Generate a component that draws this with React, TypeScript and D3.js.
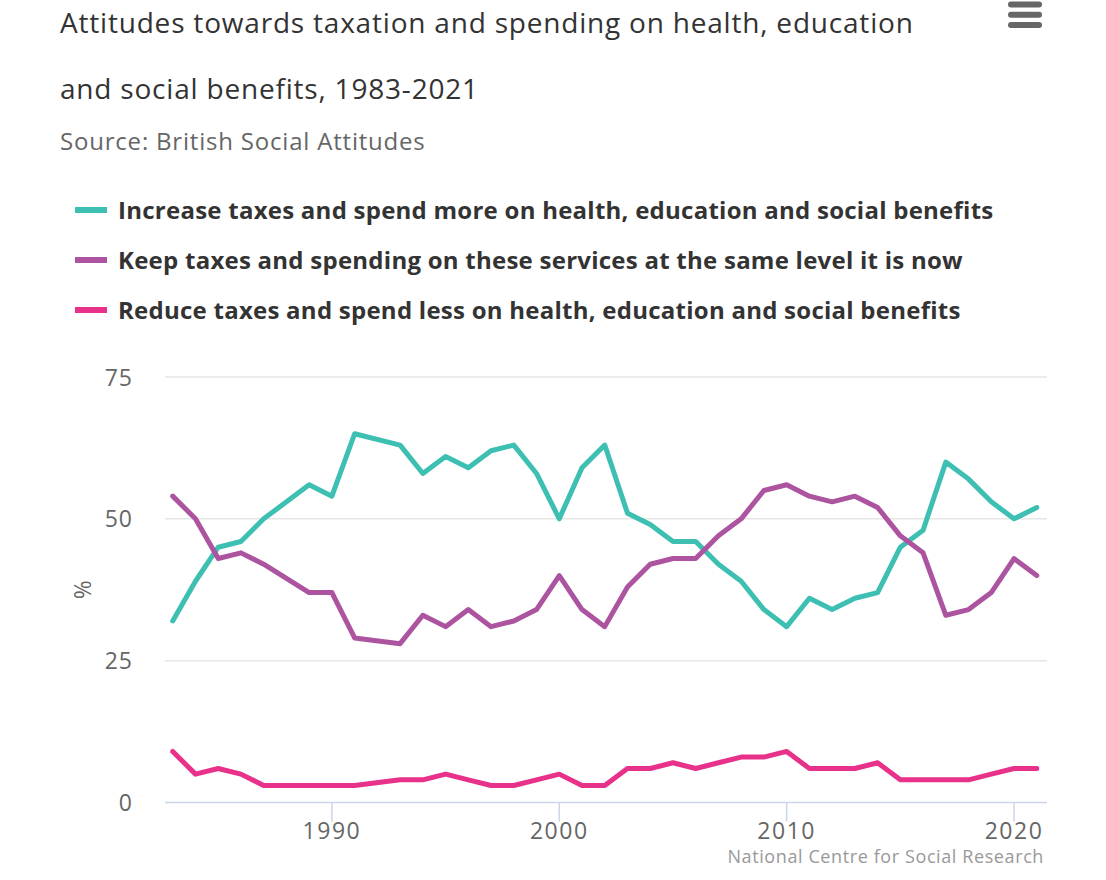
import React from "react";
import * as d3 from "d3";

const years = [1983, 1984, 1985, 1986, 1987, 1989, 1990, 1991, 1993, 1994, 1995, 1996, 1997, 1998, 1999, 2000, 2001, 2002, 2003, 2004, 2005, 2006, 2007, 2008, 2009, 2010, 2011, 2012, 2013, 2014, 2015, 2016, 2017, 2018, 2019, 2020, 2021];
const increase = [32, 39, 45, 46, 50, 56, 54, 65, 63, 58, 61, 59, 62, 63, 58, 50, 59, 63, 51, 49, 46, 46, 42, 39, 34, 31, 36, 34, 36, 37, 45, 48, 60, 57, 53, 50, 52];
const keep = [54, 50, 43, 44, 42, 37, 37, 29, 28, 33, 31, 34, 31, 32, 34, 40, 34, 31, 38, 42, 43, 43, 47, 50, 55, 56, 54, 53, 54, 52, 47, 44, 33, 34, 37, 43, 40];
const reduce = [9, 5, 6, 5, 3, 3, 3, 3, 4, 4, 5, 4, 3, 3, 4, 5, 3, 3, 6, 6, 7, 6, 7, 8, 8, 9, 6, 6, 6, 7, 4, 4, 4, 4, 5, 6, 6];

const seriesNames = [
  "Increase taxes and spend more on health, education and social benefits",
  "Keep taxes and spending on these services at the same level it is now",
  "Reduce taxes and spend less on health, education and social benefits",
];
const seriesColors = ["#3dbfb2", "#ac549f", "#e8318a"];
const yTicks = [0, 25, 50, 75];
const xTicks = [1990, 2000, 2010, 2020];

const titleLines = ["Attitudes towards taxation and spending on health, education", "and social benefits, 1983-2021"];
const subtitle = "Source: British Social Attitudes";
const credits = "National Centre for Social Research";

export default function App() {
  const W = 1106, H = 880;
  const plotLeft = 165, plotRight = 1047, plotTop = 377, plotBottom = 802.5;
  const x = d3.scaleLinear().domain([1982.66, 2021.45]).range([plotLeft, plotRight]);
  const y = d3.scaleLinear().domain([0, 75]).range([plotBottom, plotTop]);
  const allSeries = [increase, keep, reduce];
  const line = d3.line<[number, number]>().x((d) => x(d[0])).y((d) => y(d[1]));
  const font = "'Open Sans', Lato, sans-serif";

  return (
    <div style={{ position: "absolute", left: 0, top: 0 }}>
      <svg width={W} height={H} style={{ display: "block", fontFamily: font }}>
        <rect width={W} height={H} fill="#ffffff" />
        {titleLines.map((t, i) => (
          <text key={i} x={60} y={33.3 + i * 66} fontSize={28} letterSpacing={0.8} fill="#333333">{t}</text>
        ))}
        <text x={60} y={150} fontSize={24} letterSpacing={0.8} fill="#666666">{subtitle}</text>
        {[0, 1, 2].map((i) => (
          <rect key={i} x={1008} y={1.5 + i * 10.3} width={34} height={6} rx={3} fill="#666666" />
        ))}
        {seriesNames.map((n, i) => (
          <g key={i} transform={`translate(0, ${210 + i * 50})`}>
            <line x1={75} x2={107} y1={0} y2={0} stroke={seriesColors[i]} strokeWidth={6} />
            <text x={118} y={8.5} fontSize={24} fontWeight={700} letterSpacing={0.25} fill="#333333">{n}</text>
          </g>
        ))}
        {yTicks.filter((t) => t > 0).map((t) => (
          <line key={t} x1={plotLeft} x2={plotRight} y1={y(t)} y2={y(t)} stroke="#e6e6e6" strokeWidth={1.5} />
        ))}
        <line x1={plotLeft} x2={plotRight} y1={y(0)} y2={y(0)} stroke="#ccd6eb" strokeWidth={1.5} />
        {yTicks.map((t) => (
          <text key={t} x={133} y={y(t) + 8.5} fontSize={23} letterSpacing={1} fill="#666666" textAnchor="end">{t}</text>
        ))}
        <text transform={`translate(91, ${y(37.5)}) rotate(-90)`} fontSize={23} fill="#666666" textAnchor="middle">%</text>
        {xTicks.map((t) => (
          <g key={t}>
            <line x1={x(t)} x2={x(t)} y1={y(0)} y2={y(0) + 19} stroke="#ccd6eb" strokeWidth={1.5} />
            <text x={x(t)} y={839} fontSize={23} letterSpacing={1.5} fill="#666666" textAnchor="middle">{t}</text>
          </g>
        ))}
        {allSeries.map((s, i) => (
          <path key={i} d={line(years.map((yr, j) => [yr, s[j]]) as [number, number][]) || ""} fill="none" stroke={seriesColors[i]} strokeWidth={5} strokeLinejoin="round" strokeLinecap="round" />
        ))}
        <text x={1044} y={862.5} fontSize={18} letterSpacing={0.6} fill="#999999" textAnchor="end">{credits}</text>
      </svg>
    </div>
  );
}
